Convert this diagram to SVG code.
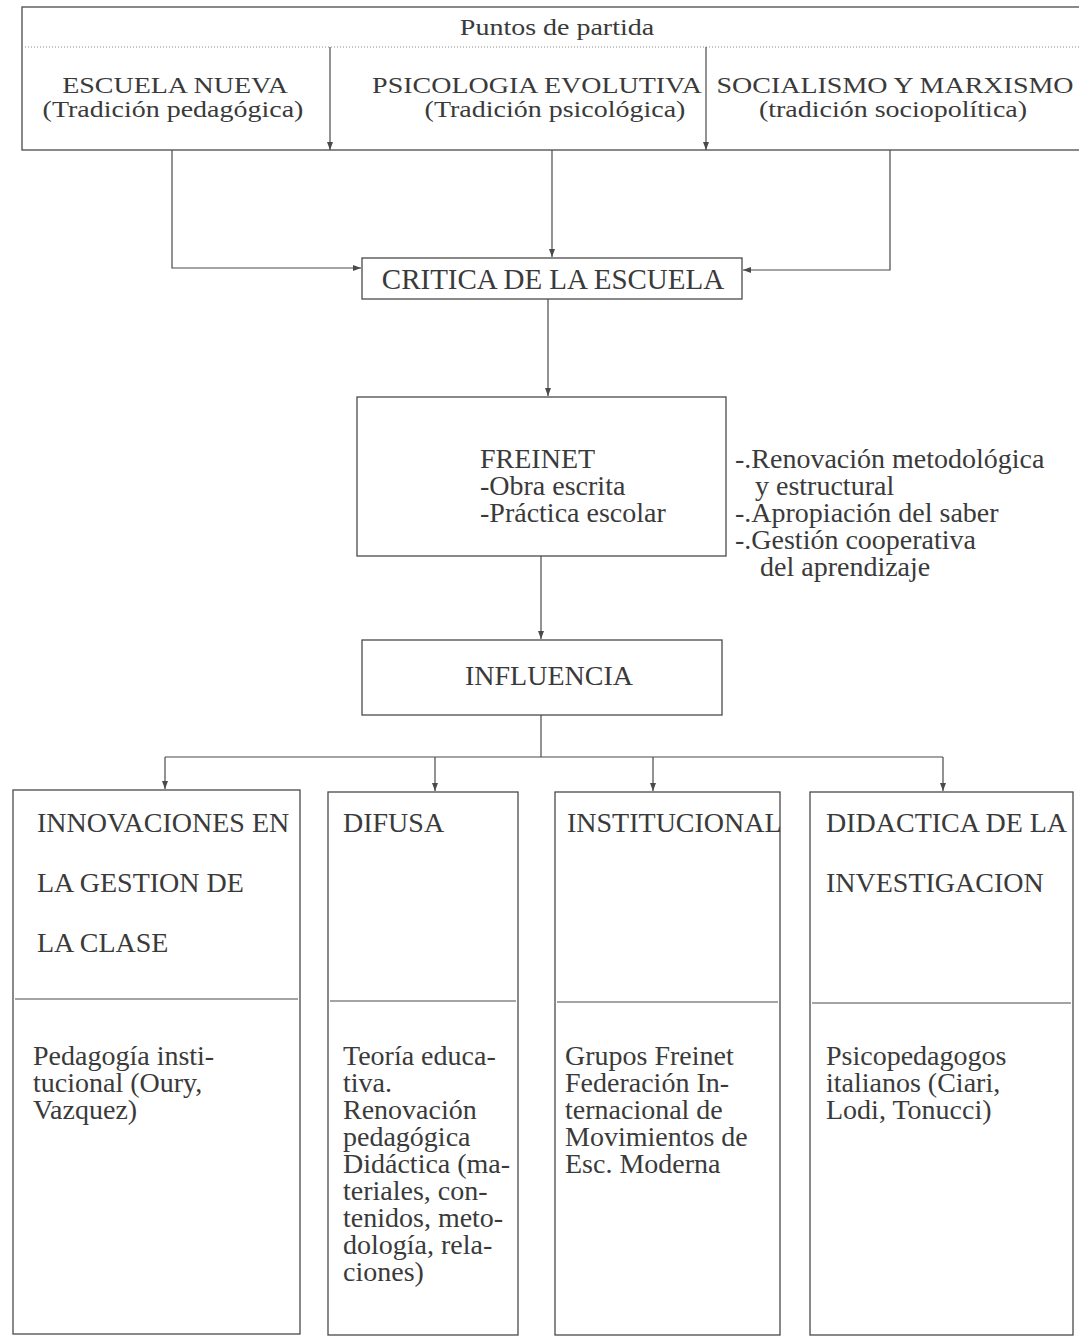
<svg xmlns="http://www.w3.org/2000/svg" width="1079" height="1339" viewBox="0 0 1079 1339">
<style>
  text { font-family: "Liberation Serif", "Times New Roman", serif; fill: #3a3a3a; }
  .hd { font-size: 28px; text-anchor: middle; }
  .mid { font-size: 29px; text-anchor: middle; }
  .bx { font-size: 28px; }
  .box { fill: #ffffff; stroke: #4a4a4a; stroke-width: 1.3; }
  .ln { fill: none; stroke: #4a4a4a; stroke-width: 1.2; }
  .dot { fill: none; stroke: #8a8a8a; stroke-width: 1; stroke-dasharray: 1 2; }
  .sep { fill: none; stroke: #4a4a4a; stroke-width: 1.1; }
</style>
<defs>
  <marker id="ah" markerUnits="userSpaceOnUse" markerWidth="8" markerHeight="6" refX="8" refY="3" orient="auto">
    <path d="M0,0 L8,3 L0,6 z" fill="#4a4a4a"/>
  </marker>
</defs>
<rect width="1079" height="1339" fill="#ffffff"/>

<g id="puntos-de-partida">
  <rect class="box" x="22" y="7" width="1080" height="143"/>
  <line class="dot" x1="25" y1="47" x2="1079" y2="47"/>
  <text class="hd" transform="translate(557 35) scale(1 0.85)">Puntos de partida</text>
</g>

<g id="escuela-nueva">
  <text class="hd" transform="translate(175 93) scale(1 0.85)">ESCUELA NUEVA</text>
  <text class="hd" transform="translate(173 117) scale(1 0.85)">(Tradición pedagógica)</text>
</g>

<g id="psicologia-evolutiva">
  <text class="hd" transform="translate(537 93) scale(1 0.85)">PSICOLOGIA EVOLUTIVA</text>
  <text class="hd" transform="translate(555 117) scale(1 0.85)">(Tradición psicológica)</text>
</g>

<g id="socialismo-marxismo">
  <text class="hd" transform="translate(895 93) scale(1 0.85)">SOCIALISMO Y MARXISMO</text>
  <text class="hd" transform="translate(893 117) scale(1 0.85)">(tradición sociopolítica)</text>
</g>

<g id="critica">
  <rect class="box" x="362" y="258" width="380" height="41"/>
  <text class="mid" x="553" y="289">CRITICA DE LA ESCUELA</text>
</g>

<g id="freinet">
  <rect class="box" x="357" y="397" width="369" height="159"/>
  <text class="bx" x="480" y="468">FREINET</text>
  <text class="bx" x="480" y="495">-Obra escrita</text>
  <text class="bx" x="480" y="522">-Práctica escolar</text>
</g>

<g id="freinet-notas">
  <text class="bx" x="735" y="468">-.Renovación metodológica</text>
  <text class="bx" x="755" y="495">y estructural</text>
  <text class="bx" x="735" y="522">-.Apropiación del saber</text>
  <text class="bx" x="735" y="549">-.Gestión cooperativa</text>
  <text class="bx" x="760" y="576">del aprendizaje</text>
</g>

<g id="influencia">
  <rect class="box" x="362" y="640" width="360" height="75"/>
  <text class="bx" x="465" y="685">INFLUENCIA</text>
</g>

<g id="innovaciones">
  <rect class="box" x="13" y="790" width="287" height="544"/>
  <line class="sep" x1="15" y1="999" x2="298" y2="999"/>
  <text class="bx" x="37" y="832">INNOVACIONES EN</text>
  <text class="bx" x="37" y="892">LA GESTION DE</text>
  <text class="bx" x="37" y="952">LA CLASE</text>
  <text class="bx" x="33" y="1065">Pedagogía insti-</text>
  <text class="bx" x="33" y="1092">tucional (Oury,</text>
  <text class="bx" x="33" y="1119">Vazquez)</text>
</g>

<g id="difusa">
  <rect class="box" x="328" y="792" width="190" height="543"/>
  <line class="sep" x1="330" y1="1001" x2="516" y2="1001"/>
  <text class="bx" x="343" y="832">DIFUSA</text>
  <text class="bx" x="343" y="1065">Teoría educa-</text>
  <text class="bx" x="343" y="1092">tiva.</text>
  <text class="bx" x="343" y="1119">Renovación</text>
  <text class="bx" x="343" y="1146">pedagógica</text>
  <text class="bx" x="343" y="1173">Didáctica (ma-</text>
  <text class="bx" x="343" y="1200">teriales, con-</text>
  <text class="bx" x="343" y="1227">tenidos, meto-</text>
  <text class="bx" x="343" y="1254">dología, rela-</text>
  <text class="bx" x="343" y="1281">ciones)</text>
</g>

<g id="institucional">
  <rect class="box" x="555" y="792" width="225" height="543"/>
  <line class="sep" x1="557" y1="1002" x2="778" y2="1002"/>
  <text class="bx" x="567" y="832">INSTITUCIONAL</text>
  <text class="bx" x="565" y="1065">Grupos Freinet</text>
  <text class="bx" x="565" y="1092">Federación In-</text>
  <text class="bx" x="565" y="1119">ternacional de</text>
  <text class="bx" x="565" y="1146">Movimientos de</text>
  <text class="bx" x="565" y="1173">Esc. Moderna</text>
</g>

<g id="didactica-investigacion">
  <rect class="box" x="810" y="792" width="263" height="543"/>
  <line class="sep" x1="812" y1="1003" x2="1071" y2="1003"/>
  <text class="bx" x="826" y="832">DIDACTICA DE LA</text>
  <text class="bx" x="826" y="892">INVESTIGACION</text>
  <text class="bx" x="826" y="1065">Psicopedagogos</text>
  <text class="bx" x="826" y="1092">italianos (Ciari,</text>
  <text class="bx" x="826" y="1119">Lodi, Tonucci)</text>
</g>

<g id="connectors">
  <path class="ln" d="M330,47 V150" marker-end="url(#ah)"/>
  <path class="ln" d="M706,47 V150" marker-end="url(#ah)"/>
  <path class="ln" d="M172,150 V268 H361" marker-end="url(#ah)"/>
  <path class="ln" d="M552,150 V257" marker-end="url(#ah)"/>
  <path class="ln" d="M890,150 V270 H743" marker-end="url(#ah)"/>
  <path class="ln" d="M548,299 V396" marker-end="url(#ah)"/>
  <path class="ln" d="M541,556 V639" marker-end="url(#ah)"/>
  <path class="ln" d="M541,715 V757"/>
  <path class="ln" d="M165,757 H943"/>
  <path class="ln" d="M165,757 V789" marker-end="url(#ah)"/>
  <path class="ln" d="M435,757 V791" marker-end="url(#ah)"/>
  <path class="ln" d="M653,757 V791" marker-end="url(#ah)"/>
  <path class="ln" d="M943,757 V791" marker-end="url(#ah)"/>
</g>
</svg>
